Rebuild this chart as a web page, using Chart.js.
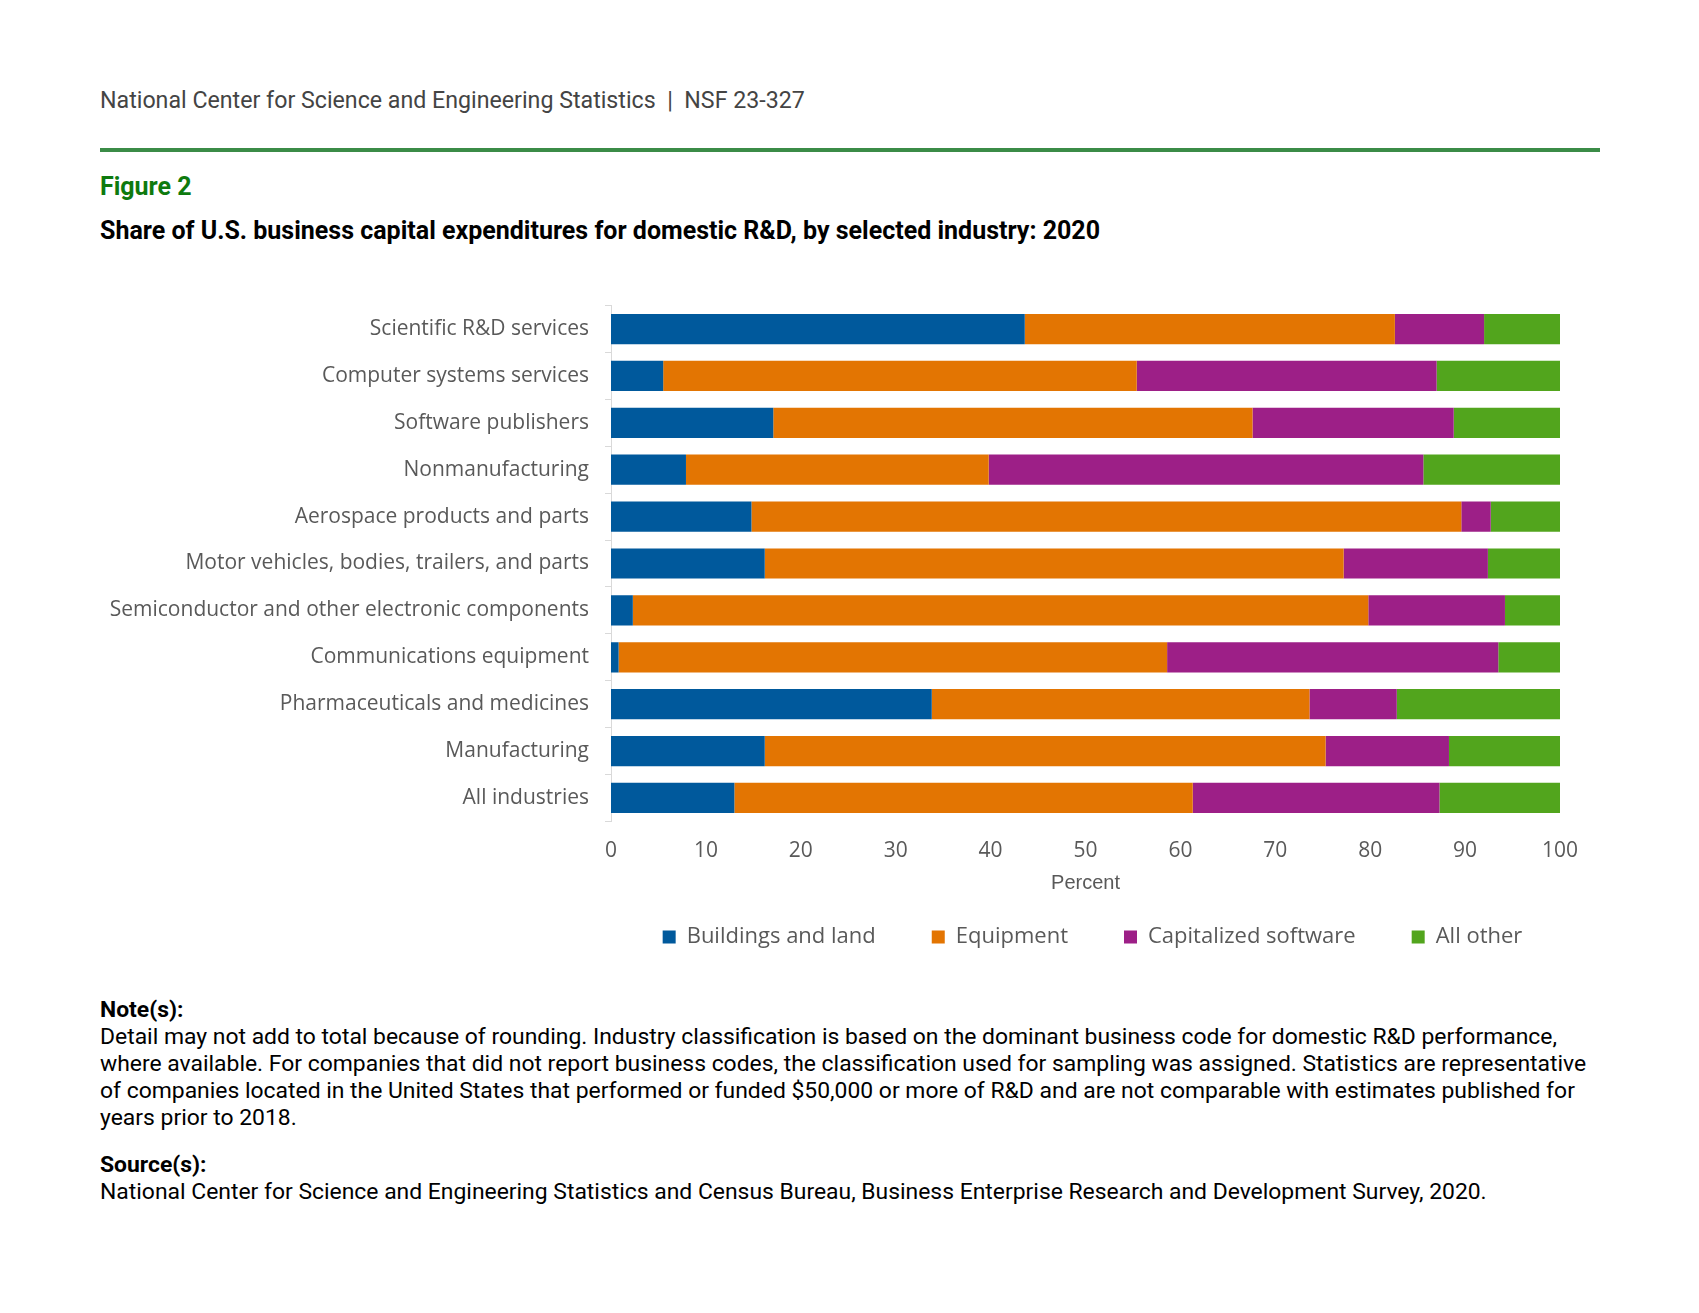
<!DOCTYPE html>
<html>
<head>
<meta charset="utf-8">
<script src="https://cdn.jsdelivr.net/npm/chart.js@4"></script>
<style>
  body { margin: 0; background: #fff; width: 1699px; height: 1313px; position: relative; overflow: hidden; }
  .txt { position: absolute; left: 100px; font-family: Roboto, sans-serif; white-space: nowrap; }
  #header { top: 88px; font-size: 23.2px; line-height: 24px; color: #444; }
  #rule { position: absolute; left: 100px; top: 148px; width: 1500px; height: 4px; background: #3b8c47; }
  #figno { top: 174px; font-size: 25px; line-height: 26px; font-weight: bold; color: #0e7a0e; }
  #title { top: 218px; font-size: 25px; line-height: 26px; font-weight: bold; color: #000; }
  #notes { top: 996px; font-size: 22.9px; line-height: 27px; color: #000; }
  #notes b { font-weight: bold; }
  #notes p { margin: 0 0 20px 0; }
  #wrap { position: absolute; left: 100px; top: 277px; width: 1520px; height: 696px; }
</style>
</head>
<body>
<div class="txt" id="header">National Center for Science and Engineering Statistics &nbsp;|&nbsp; NSF 23-327</div>
<div id="rule"></div>
<div class="txt" id="figno">Figure 2</div>
<div class="txt" id="title">Share of U.S. business capital expenditures for domestic R&amp;D, by selected industry: 2020</div>

<div id="wrap"><canvas id="chart" width="1520" height="696"></canvas></div>

<div class="txt" id="notes">
  <p><b>Note(s):</b><br>
  Detail may not add to total because of rounding. Industry classification is based on the dominant business code for domestic R&amp;D performance,<br>
  where available. For companies that did not report business codes, the classification used for sampling was assigned. Statistics are representative<br>
  of companies located in the United States that performed or funded $50,000 or more of R&amp;D and are not comparable with estimates published for<br>
  years prior to 2018.</p>
  <p><b>Source(s):</b><br>
  National Center for Science and Engineering Statistics and Census Bureau, Business Enterprise Research and Development Survey, 2020.</p>
</div>

<script>
  // industries, top to bottom
  const industries = [
    "Scientific R&D services",
    "Computer systems services",
    "Software publishers",
    "Nonmanufacturing",
    "Aerospace products and parts",
    "Motor vehicles, bodies, trailers, and parts",
    "Semiconductor and other electronic components",
    "Communications equipment",
    "Pharmaceuticals and medicines",
    "Manufacturing",
    "All industries"
  ];

  // percent shares
  const buildings = [43.6, 5.5, 17.1, 7.9, 14.8, 16.2, 2.3, 0.8, 33.8, 16.2, 13.0];
  const equipment = [39.0, 49.9, 50.5, 31.9, 74.8, 61.0, 77.5, 57.8, 39.8, 59.1, 48.3];
  const software  = [9.4, 31.6, 21.2, 45.8, 3.1, 15.2, 14.4, 34.9, 9.2, 13.0, 26.0];
  const allOther  = [8.0, 13.0, 11.2, 14.4, 7.3, 7.6, 5.8, 6.5, 17.2, 11.7, 12.7];

  const xTicks = [0, 10, 20, 30, 40, 50, 60, 70, 80, 90, 100];

  const gray = '#595959';
  const axisLine = '#d9d9d9';

  Chart.defaults.font.family = "'Open Sans', sans-serif";
  Chart.defaults.font.size = 21;
  Chart.defaults.color = gray;

  const bar = (label, data, color) => ({
    label: label,
    data: data,
    backgroundColor: color,
    borderWidth: 0,
    barPercentage: 0.645,
    categoryPercentage: 1
  });

  // the legend sits under the plot area, not under the whole canvas
  const legendUnderPlot = {
    id: 'legendUnderPlot',
    afterLayout(chart) {
      const lg = chart.legend;
      const area = chart.chartArea;
      const dx = (area.left + area.right) / 2 - (lg.left + lg.right) / 2 + 7;
      lg.left += dx;
      lg.right += dx;
    }
  };

  new Chart(document.getElementById('chart'), {
    type: 'bar',
    data: {
      labels: industries,
      datasets: [
        bar('Buildings and land', buildings, '#00599c'),
        bar('Equipment', equipment, '#e37502'),
        bar('Capitalized software', software, '#9d1f87'),
        bar('All other', allOther, '#52a51d')
      ]
    },
    plugins: [legendUnderPlot],
    options: {
      indexAxis: 'y',
      responsive: false,
      animation: false,
      devicePixelRatio: 1,
      layout: { padding: { top: 0, right: 60, bottom: 15, left: 0 } },
      scales: {
        x: {
          stacked: true,
          min: 0,
          max: 100,
          afterBuildTicks: (scale) => { scale.ticks = xTicks.map(v => ({ value: v })); },
          grid: { display: false, drawTicks: false },
          border: { display: false },
          ticks: { padding: 16.7, color: gray, font: { size: 21 } },
          title: {
            display: true,
            text: 'Percent',
            color: gray,
            font: { family: "'Liberation Sans', Arial, sans-serif", size: 20 },
            padding: { top: -8.9, bottom: -25.1 }
          }
        },
        y: {
          stacked: true,
          afterFit: (scale) => { scale.width = 511; },
          grid: {
            offset: true,
            drawOnChartArea: false,
            drawTicks: true,
            tickLength: 6,
            color: axisLine
          },
          border: { display: true, color: axisLine },
          ticks: { padding: 16, color: gray, font: { size: 21 } }
        }
      },
      plugins: {
        legend: {
          position: 'bottom',
          labels: {
            boxWidth: 13,
            boxHeight: 13,
            padding: 56,
            color: gray,
            font: { size: 22 }
          }
        },
        tooltip: { enabled: false }
      }
    }
  });
</script>
</body>
</html>
